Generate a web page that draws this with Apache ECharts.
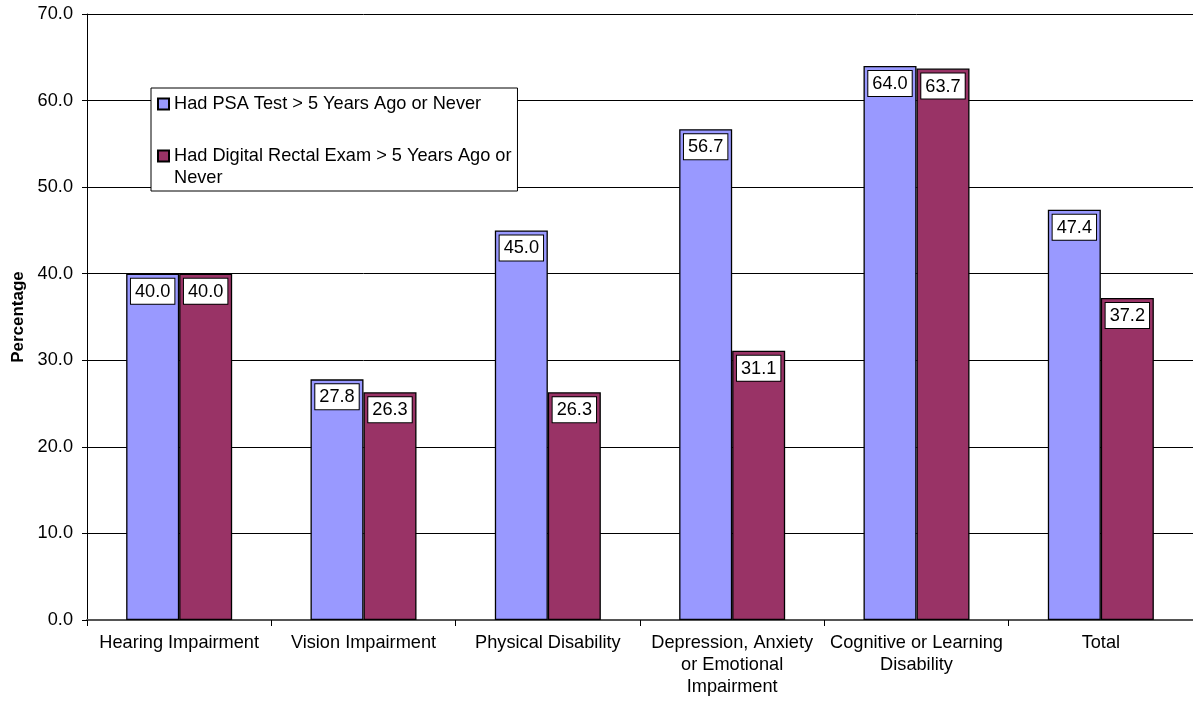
<!DOCTYPE html>
<html>
<head>
<meta charset="utf-8">
<script src="https://cdn.jsdelivr.net/npm/echarts@6/dist/echarts.min.js"></script>
<style>
html,body{margin:0;padding:0;background:#fff;}
#chart{width:1193px;height:703px;}
</style>
</head>
<body>
<div id="chart"></div>
<script>
var categories = ['Hearing Impairment', 'Vision Impairment', 'Physical Disability', 'Depression, Anxiety\nor Emotional\nImpairment', 'Cognitive or Learning\nDisability', 'Total'];
var psaValues = [40.0, 27.8, 45.0, 56.7, 64.0, 47.4];
var dreValues = [40.0, 26.3, 26.3, 31.1, 63.7, 37.2];
var seriesNames = ['Had PSA Test > 5 Years Ago or Never', 'Had Digital Rectal Exam > 5 Years Ago or Never'];
var yTicks = [0, 10, 20, 30, 40, 50, 60, 70];

var FONT = '"Liberation Sans", Arial, sans-serif';
var FS = 18.2;
var chart = echarts.init(document.getElementById('chart'), null, {renderer: 'canvas'});

var labelCfg = {
  show: true,
  position: 'insideTop',
  distance: 5,
  formatter: function (p) { return p.value.toFixed(1); },
  color: '#000',
  fontFamily: FONT,
  fontSize: FS,
  lineHeight: 18,
  backgroundColor: '#fff',
  borderColor: '#000',
  borderWidth: 1,
  padding: [4, 4, 3, 4]
};

chart.setOption({
  animation: false,
  backgroundColor: '#fff',
  textStyle: {fontFamily: FONT},
  grid: {left: 87, top: 14, width: 1113, height: 606, containLabel: false},
  legend: {
    orient: 'vertical',
    left: 151,
    top: 88,
    padding: [5, 6, 2, 6],
    itemGap: 8,
    itemWidth: 11,
    itemHeight: 11,
    backgroundColor: '#fff',
    borderColor: '#000',
    borderWidth: 1,
    borderRadius: 0,
    icon: 'rect',
    textStyle: {fontFamily: FONT, fontSize: FS, color: '#000', lineHeight: 22},
    formatter: function (name) {
      return name === seriesNames[1] ? ' \nHad Digital Rectal Exam > 5 Years Ago or\nNever' : name;
    },
    data: [seriesNames[0], seriesNames[1]]
  },
  xAxis: {
    type: 'category',
    data: categories,
    axisLine: {lineStyle: {color: '#555', width: 2}},
    axisTick: {show: true, alignWithLabel: false, length: 6, lineStyle: {color: '#000'}},
    axisLabel: {color: '#000', fontFamily: FONT, fontSize: FS, lineHeight: 22, margin: 12, interval: 0}
  },
  yAxis: {
    type: 'value',
    min: 0,
    max: 70,
    interval: 10,
    name: 'Percentage',
    nameLocation: 'middle',
    nameGap: 59,
    nameTextStyle: {color: '#000', fontFamily: FONT, fontSize: 17, fontWeight: 'bold'},
    axisLine: {show: true, lineStyle: {color: '#000', width: 1}},
    axisTick: {show: true, length: 5, lineStyle: {color: '#000'}},
    axisLabel: {color: '#000', fontFamily: FONT, fontSize: FS, margin: 14,
      formatter: function (v) { return v.toFixed(1); }},
    splitLine: {show: true, lineStyle: {color: '#000', width: 1}}
  },
  series: [
    {
      name: seriesNames[0],
      type: 'bar',
      data: psaValues,
      barWidth: 53,
      barGap: '0%',
      itemStyle: {color: '#9999FF', borderColor: '#000', borderWidth: 1.3},
      label: labelCfg
    },
    {
      name: seriesNames[1],
      type: 'bar',
      data: dreValues,
      barWidth: 53,
      barGap: '0%',
      itemStyle: {color: '#993366', borderColor: '#000', borderWidth: 1.3},
      label: labelCfg
    }
  ]
});
</script>
</body>
</html>
